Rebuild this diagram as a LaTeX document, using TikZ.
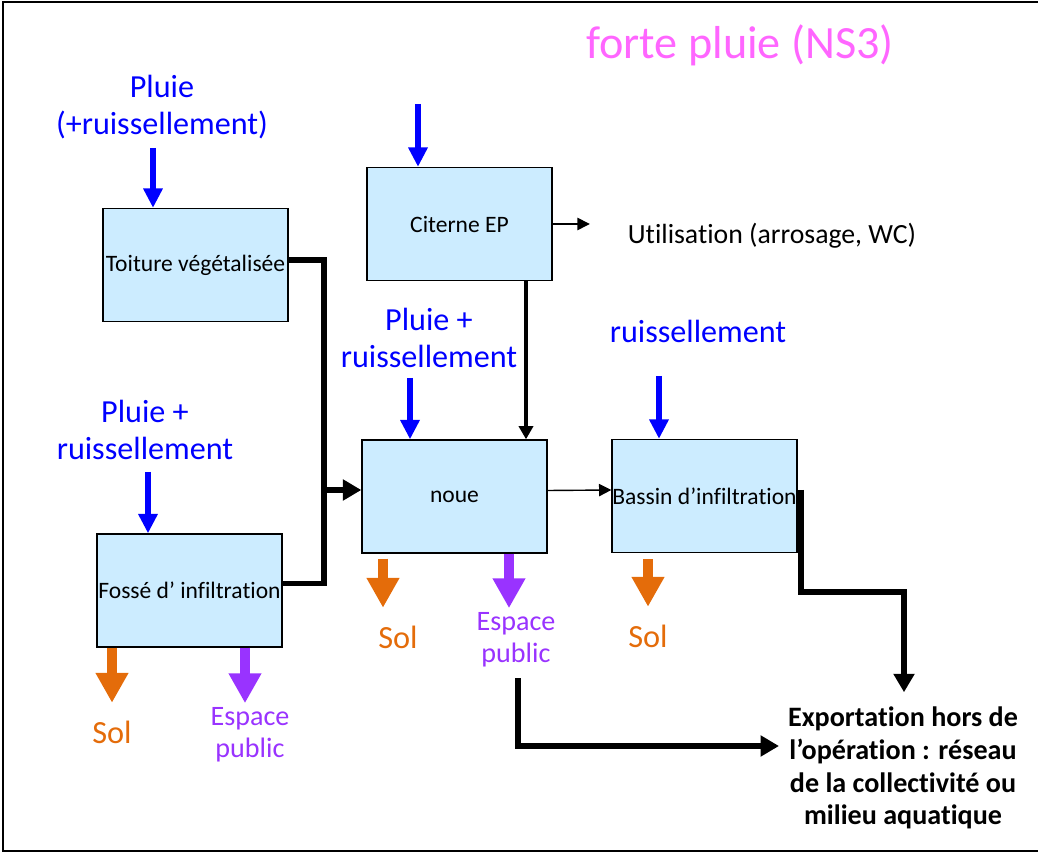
\documentclass[tikz,border=0pt]{standalone}
\usepackage{fontspec}
\setmainfont{Carlito}[RawFeature={-liga;-clig;-calt;-dlig}]
\usetikzlibrary{arrows.meta, positioning, calc}
\definecolor{boxblue}{HTML}{CCECFF}
\definecolor{rainblue}{HTML}{0000FF}
\definecolor{solorange}{HTML}{E46C0A}
\definecolor{espviolet}{HTML}{9933FF}
\definecolor{titlepink}{HTML}{FF66FF}

\begin{document}
\begin{tikzpicture}[
        x=0.02cm, y=-0.02cm,
        box/.style={draw=black, line width=0.8pt, fill=boxblue, minimum width=3.7cm, minimum height=2.26cm, inner sep=0pt, font=\fontsize{13.4}{16}\selectfont},
        rain/.style={draw=rainblue, line width=3.4pt, -{Triangle[width=10.5pt, length=11pt]}},
        raintxt/.style={text=rainblue, align=center, inner sep=0pt, font=\fontsize{18.3}{21}\selectfont},
        solflow/.style={draw=solorange, line width=6.2pt, shorten >=10pt, -{Triangle[width=17.6pt, length=17pt]}},
        soltxt/.style={text=solorange, inner sep=0pt, font=\fontsize{18.4}{21}\selectfont},
        espflow/.style={draw=espviolet, line width=6.2pt, shorten >=2.5pt, -{Triangle[width=17.6pt, length=17pt]}},
        esptxt/.style={text=espviolet, align=center, inner sep=0pt, font=\fontsize{16}{18}\selectfont},
        heavy/.style={line width=3.4pt, -{Triangle[width=11.5pt, length=10.5pt]}},
        medium/.style={line width=2.3pt, -{Triangle[width=8pt, length=7.5pt]}},
        slim/.style={line width=0.8pt, -{Triangle[width=7pt, length=7pt]}}
    ]
        \useasboundingbox (0,0) rectangle (1038,854);
        \draw[line width=1.1pt] (3,2) rectangle (1045,851);

        % titre
        \node[text=titlepink, inner sep=0pt, font=\fontsize{26.3}{30}\selectfont] (titre) at (740,45) {forte pluie (NS3)};

        % ouvrages
        \node[box] (toit) at (195.5,265) {Toiture végétalisée};
        \node[box] (cit) at (459.5,224) {Citerne EP};
        \node[box] (noue) at (454.5,496.5) {noue};
        \node[box] (bassin) at (704.5,496) {Bassin d’infiltration};
        \node[box] (fosse) at (189.5,590.5) {Fossé d’ infiltration};

        % apports de pluie
        \node[raintxt] (p1) at (162,107) {Pluie\\(+ruissellement)};
        \node[raintxt] (p2) at (429,338) {Pluie +\\ruissellement};
        \node[raintxt] (p3) at (698,331) {ruissellement};
        \node[raintxt] (p4) at (145,430) {Pluie +\\ruissellement};
        \coordinate (r1) at (153,148);
        \coordinate (r2) at (418,104);
        \coordinate (r3) at (410,378);
        \coordinate (r4) at (659,376);
        \coordinate (r5) at (148,472);
        \draw[rain] (r1) -- (r1 |- toit.north);
        \draw[rain] (r2) -- (r2 |- cit.north);
        \draw[rain] (r3) -- (r3 |- noue.north);
        \draw[rain] (r4) -- (r4 |- bassin.north);
        \draw[rain] (r5) -- (r5 |- fosse.north);

        % sorties vers le sol et l'espace public
        \node[soltxt] (sol1) at (112,732) {Sol};
        \node[soltxt] (sol2) at (398,637) {Sol};
        \node[soltxt] (sol3) at (648,636) {Sol};
        \node[esptxt] (ep1) at (250,735) {Espace\\public};
        \node[esptxt] (ep2) at (516,640) {Espace\\public};
        \draw[solflow] (fosse.south -| sol1) -- (sol1.north);
        \draw[espflow] ($(fosse.south -| ep1)+(-5,0)$) -- ($(ep1.north)+(-5,0)$);
        \draw[solflow] ($(noue.south -| sol2)+(-15,5)$) -- ($(sol2.north)+(-15,0)$);
        \draw[espflow] ($(noue.south -| ep2)+(-7,0)$) -- ($(ep2.north)+(-7,0)$);
        \draw[solflow] ($(bassin.south -| sol3)+(0,6)$) -- (sol3.north);

        % utilisation
        \node[inner sep=0pt, font=\fontsize{15.8}{18}\selectfont] (util) at (772,236) {Utilisation (arrosage, WC)};
        \draw[slim, shorten >=21.5pt] (cit.east) -- (cit.east -| util.west);

        % exportation
        \node[align=center, inner sep=0pt, font=\bfseries\fontsize{16}{18.7}\selectfont] (export) at (903,768) {Exportation hors de\\l’opération : réseau\\de la collectivité ou\\milieu aquatique};

        % liaisons entre ouvrages
        \coordinate (j) at (324,490);
        \draw[line width=3.4pt] ($(toit.east)+(0,-5)$) -| (j);
        \draw[line width=3.4pt] ($(fosse.east)+(0,-7)$) -| (j);
        \draw[heavy] (j) -- (j -| noue.west);
        \coordinate (c1) at ($(cit.south)+(66.5,0)$);
        \draw[medium] (c1) -- (c1 |- noue.north);
        \draw[slim] ($(noue.east)+(0,-6)$) -- ($(bassin.west)+(0,-6)$);
        \coordinate (b1) at (904,592);
        \draw[heavy, shorten >=8pt] ($(bassin.east)+(3,-6)$) |- (b1) -- (b1 |- export.north);
        \draw[heavy, shorten >=5pt] ($(ep2.south)+(2,11)$) |- ($(export.west)+(0,-22)$);

    \end{tikzpicture}
\end{document}
